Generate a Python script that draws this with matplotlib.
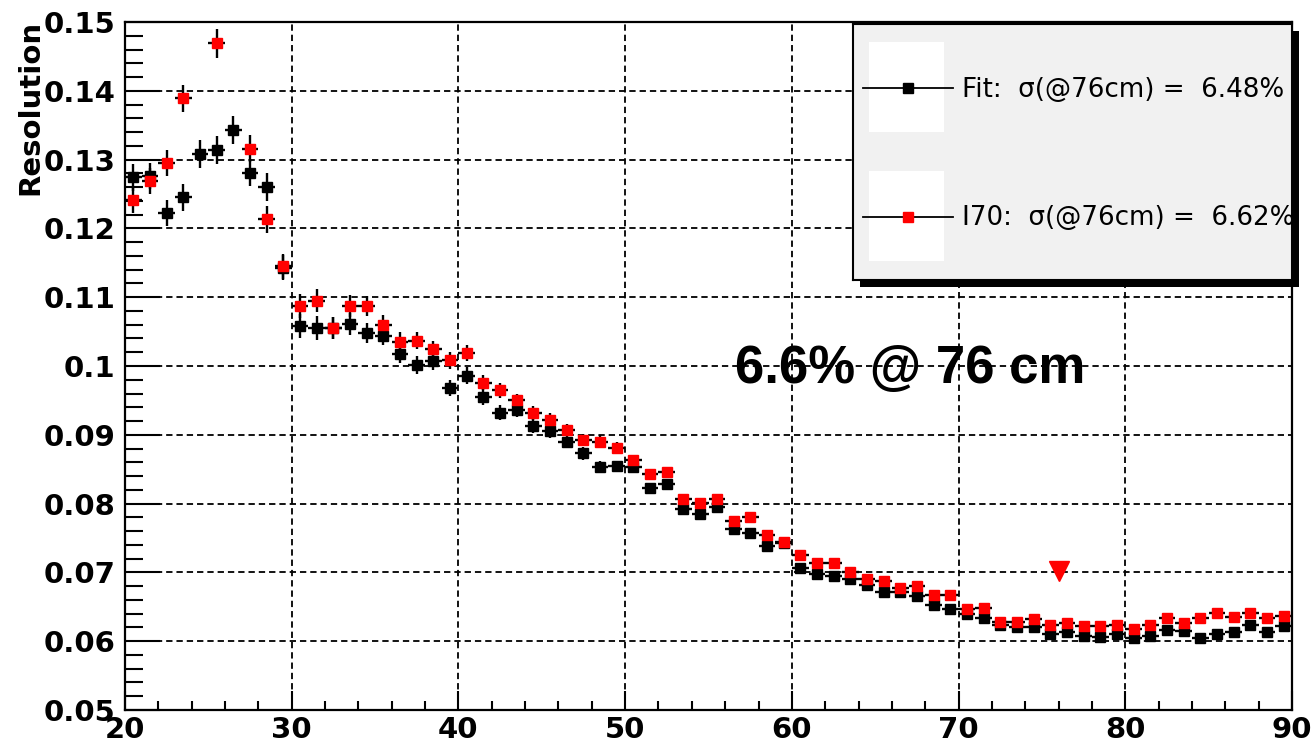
import numpy as np
import matplotlib
matplotlib.use('Agg')
import matplotlib.pyplot as plt
from matplotlib.patches import Rectangle
from matplotlib.lines import Line2D

# центры бинов по оси X (см)
x = np.arange(20.5, 90.0, 1.0)

# разрешение, метод Fit (черные точки)
fit = [0.1274, 0.1276, 0.1222, 0.1245, 0.1308, 0.1314, 0.1343, 0.1281, 0.1260, 0.1143,
       0.1058, 0.1055, 0.1055, 0.1061, 0.1048, 0.1044, 0.1018, 0.1001, 0.1007, 0.0968,
       0.0986, 0.0955, 0.0932, 0.0936, 0.0913, 0.0905, 0.0890, 0.0873, 0.0853, 0.0854,
       0.0853, 0.0822, 0.0829, 0.0792, 0.0785, 0.0795, 0.0763, 0.0757, 0.0738, 0.0743,
       0.0706, 0.0697, 0.0695, 0.0691, 0.0681, 0.0672, 0.0671, 0.0666, 0.0652, 0.0647,
       0.0639, 0.0634, 0.0623, 0.0620, 0.0620, 0.0611, 0.0613, 0.0607, 0.0606, 0.0611,
       0.0605, 0.0607, 0.0617, 0.0615, 0.0605, 0.0611, 0.0614, 0.0623, 0.0614, 0.0622]

# разрешение, метод I70 (красные точки); nan - точка за пределами графика
i70 = [0.1242, 0.1269, 0.1295, 0.1389, np.nan, 0.1469, np.nan, 0.1316, 0.1213, 0.1145,
       0.1087, 0.1095, 0.1055, 0.1087, 0.1087, 0.1060, 0.1035, 0.1037, 0.1024, 0.1008,
       0.1019, 0.0976, 0.0965, 0.0950, 0.0932, 0.0921, 0.0907, 0.0892, 0.0890, 0.0881,
       0.0863, 0.0843, 0.0846, 0.0806, 0.0801, 0.0807, 0.0774, 0.0781, 0.0754, 0.0744,
       0.0725, 0.0714, 0.0714, 0.0700, 0.0690, 0.0687, 0.0677, 0.0680, 0.0667, 0.0667,
       0.0647, 0.0648, 0.0628, 0.0628, 0.0632, 0.0623, 0.0627, 0.0622, 0.0622, 0.0624,
       0.0618, 0.0624, 0.0633, 0.0627, 0.0633, 0.0641, 0.0635, 0.0641, 0.0633, 0.0636]

# ошибки по Y (одинаковые для обеих серий)
err = [0.0019, 0.0019, 0.0019, 0.0020, 0.0020, 0.0021, 0.0020, 0.0020, 0.0020, 0.0018,
       0.0017, 0.0017, 0.0016, 0.0016, 0.0015, 0.0014, 0.0014, 0.0013, 0.0013, 0.0012,
       0.0012, 0.0011, 0.0011, 0.0010, 0.0010, 0.0010, 0.0009, 0.0009, 0.0009, 0.0008,
       0.0008, 0.0008, 0.0007, 0.0007, 0.0007, 0.0007, 0.0006, 0.0006, 0.0006, 0.0006,
       0.0006, 0.0006, 0.0005, 0.0005, 0.0005, 0.0005, 0.0005, 0.0005, 0.0005, 0.0005,
       0.0005, 0.0005, 0.0005, 0.0005, 0.0005, 0.0005, 0.0005, 0.0005, 0.0005, 0.0005,
       0.0005, 0.0005, 0.0005, 0.0005, 0.0005, 0.0005, 0.0005, 0.0005, 0.0005, 0.0005]

# отметка 76 см
mark_x = [76.0]
mark_y = [0.0702]

xtick_vals = [20, 30, 40, 50, 60, 70, 80, 90]
xtick_labels = ['20', '30', '40', '50', '60', '70', '80', '90']
ytick_vals = [0.05, 0.06, 0.07, 0.08, 0.09, 0.10, 0.11, 0.12, 0.13, 0.14, 0.15]
ytick_labels = ['0.05', '0.06', '0.07', '0.08', '0.09', '0.1', '0.11', '0.12', '0.13', '0.14', '0.15']

legend_labels = ['Fit:  \u03c3(@76cm) =  6.48%', 'I70:  \u03c3(@76cm) =  6.62%']
note = '6.6% @ 76 cm'

W, H = 1315, 744
fig = plt.figure(figsize=(W / 100, H / 100), dpi=100)
ax = fig.add_axes([125 / W, 1 - 710 / H, 1167 / W, 688 / H])

grid_style = dict(color='black', lw=1.3, ls=(0, (3.5, 2.2)))
for xv in xtick_vals[1:-1]:
    ax.axvline(xv, zorder=1, **grid_style)
for yv in ytick_vals[1:-1]:
    ax.axhline(yv, zorder=1, **grid_style)

ax.errorbar(x, fit, xerr=0.5, yerr=err, fmt='s', color='black', ecolor='black',
            ms=7, elinewidth=1.7, capsize=0, zorder=3)
ax.errorbar(x, i70, xerr=0.5, yerr=err, fmt='s', color='red', mec='red', ecolor='black',
            ms=7, elinewidth=1.7, capsize=0, zorder=4)
ax.plot(mark_x, mark_y, 'v', color='red', ms=15, zorder=5)

ax.set_xlim(20, 90)
ax.set_ylim(0.05, 0.15)
ax.set_xticks(xtick_vals)
ax.set_xticklabels(xtick_labels)
ax.set_yticks(ytick_vals)
ax.set_yticklabels(ytick_labels)
ax.set_xticks(np.arange(20, 91, 2), minor=True)
ax.set_yticks(np.arange(0.05, 0.1501, 0.002), minor=True)

for lab in ax.get_xticklabels() + ax.get_yticklabels():
    lab.set_fontsize(21)
    lab.set_fontweight('bold')
    lab.set_family('DejaVu Sans')

ax.tick_params(axis='x', which='major', direction='in', length=14, width=1.5, pad=4)
ax.tick_params(axis='x', which='minor', direction='in', length=6.5, width=1.5)
ax.tick_params(axis='y', which='major', direction='in', length=25, width=1.5, pad=7)
ax.tick_params(axis='y', which='minor', direction='in', length=13, width=1.5)
for sp in ax.spines.values():
    sp.set_linewidth(1.6)

ax.text(56.6, 0.0976, note, fontsize=38, fontweight='bold', family='Liberation Sans',
        ha='left', va='baseline', zorder=6)

fig.text(30 / W, 1 - 20 / H, 'Resolution', rotation=90, ha='center', va='top',
         fontsize=21, fontweight='bold', family='DejaVu Sans')

# легенда с тенью
bx, by, bw, bh = 853, 280, 439, 256
shadow = Rectangle(((bx + 7) / W, 1 - (by + 7) / H), bw / W, bh / H,
                   transform=fig.transFigure, facecolor='black', edgecolor='none', zorder=2)
fig.add_artist(shadow)
leg = fig.add_axes([bx / W, 1 - by / H, bw / W, bh / H], facecolor='#f1f1f1', zorder=3)
leg.set_xlim(0, 1)
leg.set_ylim(0, 1)
leg.set_xticks([])
leg.set_yticks([])
for sp in leg.spines.values():
    sp.set_linewidth(1.5)

rows = [(0.578, 0.75, 0.715, 'black'), (0.074, 0.246, 0.215, 'red')]
for (rb, ly, ty, col), lab in zip(rows, legend_labels):
    leg.add_patch(Rectangle((0.0364, rb), 0.171, 0.353, facecolor='white', edgecolor='none'))
    leg.add_line(Line2D([0.0228, 0.2278], [ly, ly], color='black', lw=1.3))
    leg.plot([0.1253], [ly], 's', color=col, ms=6.5)
    leg.text(0.248, ty, lab, fontsize=18.8, family='DejaVu Sans', ha='left', va='baseline',
             clip_on=True)

fig.savefig('out.png', dpi=100)
